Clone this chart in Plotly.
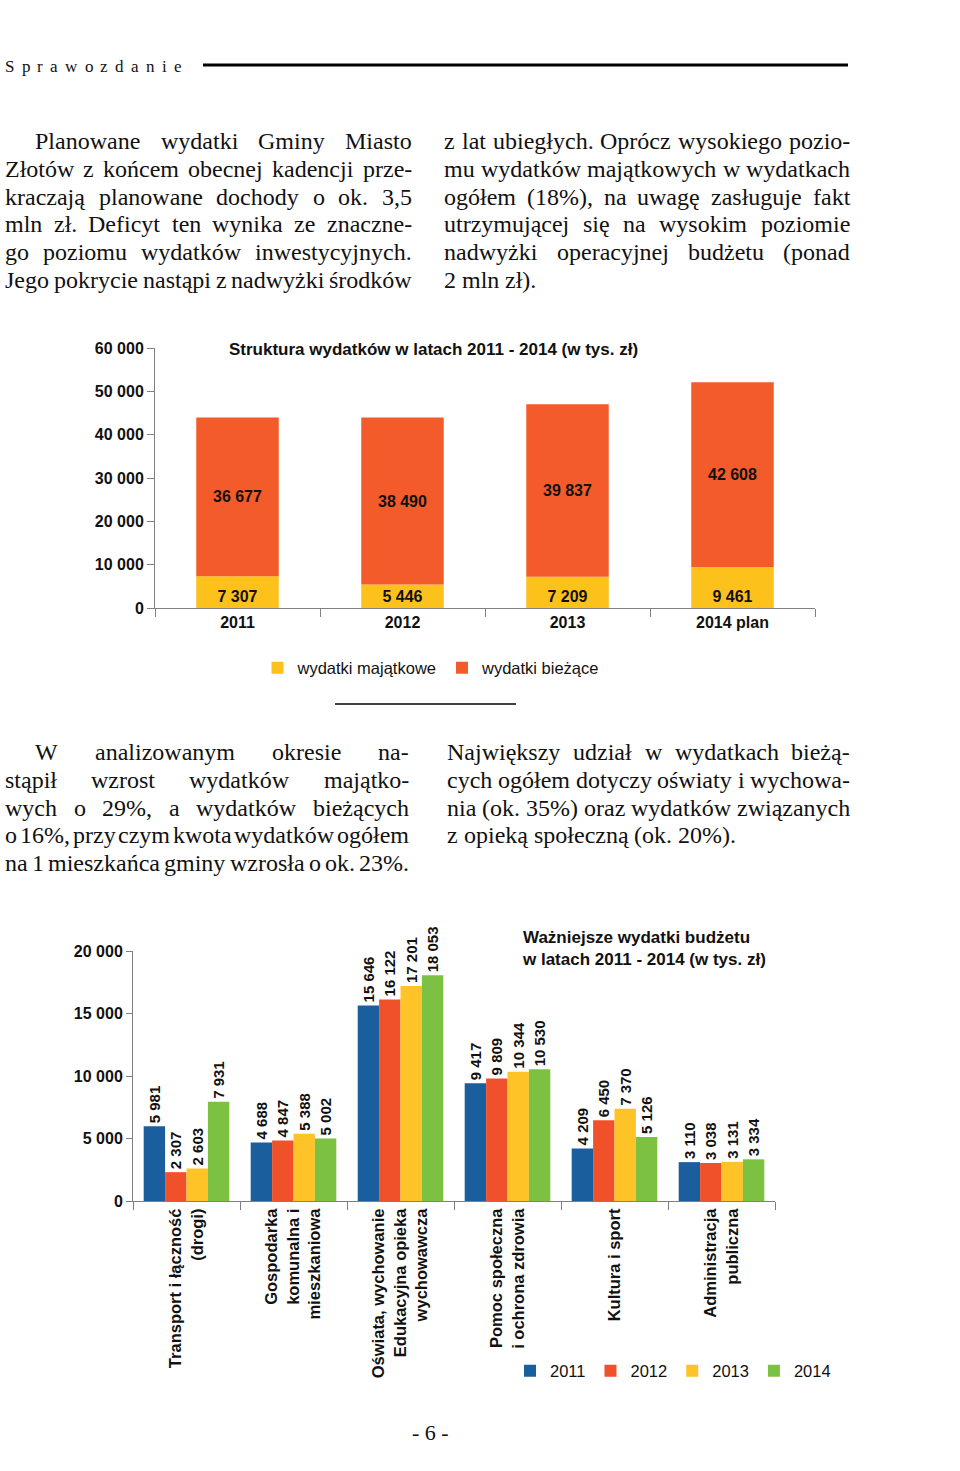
import plotly.graph_objects as go

# ---------------- data ----------------
years1 = ["2011", "2012", "2013", "2014 plan"]
wydatki_majatkowe = [7307, 5446, 7209, 9461]
wydatki_biezace = [36677, 38490, 39837, 42608]

categories2 = [
    "Transport i łączność<br>(drogi)",
    "Gospodarka<br>komunalna i<br>mieszkaniowa",
    "Oświata, wychowanie<br>Edukacyjna opieka<br>wychowawcza",
    "Pomoc społeczna<br>i ochrona zdrowia",
    "Kultura i sport",
    "Administracja<br>publiczna",
]
years2 = ["2011", "2012", "2013", "2014"]
v2011 = [5981, 4688, 15646, 9417, 4209, 3110]
v2012 = [2307, 4847, 16122, 9809, 6450, 3038]
v2013 = [2603, 5388, 17201, 10344, 7370, 3131]
v2014 = [7931, 5002, 18053, 10530, 5126, 3334]

y1_ticks = [0, 10000, 20000, 30000, 40000, 50000, 60000]
y2_ticks = [0, 5000, 10000, 15000, 20000]

para1 = [
    "Planowane wydatki Gminy Miasto",
    "Złotów z końcem obecnej kadencji prze-",
    "kraczają planowane dochody o ok. 3,5",
    "mln zł. Deficyt ten wynika ze znaczne-",
    "go poziomu wydatków inwestycyjnych.",
    "Jego pokrycie nastąpi z nadwyżki środków",
]
para2 = [
    "z lat ubiegłych. Oprócz wysokiego pozio-",
    "mu wydatków majątkowych w wydatkach",
    "ogółem (18%), na uwagę zasługuje fakt",
    "utrzymującej się na wysokim poziomie",
    "nadwyżki operacyjnej budżetu (ponad",
    "2 mln zł).",
]
para3 = [
    "W analizowanym okresie na-",
    "stąpił wzrost wydatków majątko-",
    "wych o 29%, a wydatków bieżących",
    "o 16%, przy czym kwota wydatków ogółem",
    "na 1 mieszkańca gminy wzrosła o ok. 23%.",
]
para4 = [
    "Największy udział w wydatkach bieżą-",
    "cych ogółem dotyczy oświaty i wychowa-",
    "nia (ok. 35%) oraz wydatków związanych",
    "z opieką społeczną (ok. 20%).",
]

# ---------------- page geometry ----------------
W, H = 960, 1471


def fx(px):
    return px / W


def fy(py):
    return 1 - py / H


SANS = "Liberation Sans, Arial, sans-serif"
SERIF = "Liberation Serif, Times New Roman, serif"

YEL1, ORA1 = "#FDC11C", "#F35B2A"
C2011, C2012, C2013, C2014 = "#1B5E9D", "#F0502A", "#FDC327", "#7DC143"
AXC = "#808080"

# Times / Liberation Serif advance widths (1/1000 em)
TW = {' ': 250, '(': 333, ')': 333, ',': 250, '-': 333, '.': 250, '%': 833,
      'a': 444, 'b': 500, 'c': 444, 'd': 500, 'e': 444, 'f': 333, 'g': 500, 'h': 500,
      'i': 278, 'j': 278, 'k': 500, 'l': 278, 'm': 778, 'n': 500, 'o': 500, 'p': 500,
      'q': 500, 'r': 333, 's': 389, 't': 278, 'u': 500, 'v': 500, 'w': 722, 'x': 500,
      'y': 500, 'z': 444,
      'A': 722, 'B': 667, 'C': 667, 'D': 722, 'E': 611, 'F': 556, 'G': 722, 'H': 722,
      'I': 333, 'J': 389, 'K': 722, 'L': 611, 'M': 889, 'N': 722, 'O': 722, 'P': 556,
      'R': 667, 'S': 556, 'T': 611, 'U': 722, 'W': 944, 'Z': 611,
      'ą': 444, 'ć': 444, 'ę': 444, 'ł': 278, 'ń': 500, 'ó': 500, 'ś': 389, 'ź': 444,
      'ż': 444, 'Ł': 611, 'Ś': 556, 'Ż': 611}


def tw(s):
    return sum(TW.get(c, 500) for c in s) / 1000.0


annotations = []
FS = 24


def word_ann(text, px, py, size=FS):
    annotations.append(dict(
        text=text, x=fx(px), y=fy(py), xref="paper", yref="paper",
        xanchor="left", yanchor="middle", showarrow=False, borderpad=0,
        font=dict(family=SERIF, size=size, color="#111")))


def paragraph(lines, x0, x1, y0, step, indent, justify_last):
    for i, line in enumerate(lines):
        words = line.split(" ")
        left = x0 + (indent if i == 0 else 0)
        widths = [tw(w) * FS for w in words]
        last = i == len(lines) - 1
        if len(words) > 1 and (not last or justify_last):
            gap = (x1 - left - sum(widths)) / (len(words) - 1)
        else:
            gap = 0.25 * FS
        x = left
        for w, wd in zip(words, widths):
            word_ann(w, x, y0 + i * step)
            x += wd + gap


paragraph(para1, 4, 411, 141, 27.8, 30, True)
paragraph(para2, 443, 849, 141, 27.8, 0, False)
paragraph(para3, 4, 408, 752, 27.8, 30, True)
paragraph(para4, 446, 849, 752, 27.8, 0, False)

# header letter-spaced word
hx = 4
for ch in "Sprawozdanie":
    word_ann(ch, hx, 66, size=17)
    hx += tw(ch) * 17 + 7.25

annotations.append(dict(text="- 6 -", x=fx(430), y=fy(1432), xref="paper", yref="paper",
                        xanchor="center", yanchor="middle", showarrow=False,
                        font=dict(family=SERIF, size=22, color="#111")))

annotations.append(dict(text="Struktura wydatków w latach 2011 - 2014 (w tys. zł)",
                        x=fx(433), y=fy(349), xref="paper", yref="paper",
                        xanchor="center", yanchor="middle", showarrow=False,
                        font=dict(family=SANS, size=17, color="#111", weight="bold")))

annotations.append(dict(text="Ważniejsze wydatki budżetu<br>w latach 2011 - 2014 (w tys. zł)",
                        x=fx(520), y=fy(926), xref="paper", yref="paper",
                        xanchor="left", yanchor="top", align="left", showarrow=False,
                        font=dict(family=SANS, size=17, color="#111", weight="bold")))


def fmt(v):
    return f"{v:,}".replace(",", " ")


fig = go.Figure()

fig.add_trace(go.Bar(
    x=years1, y=wydatki_majatkowe, name="wydatki majątkowe", marker=dict(color=YEL1, line=dict(width=0)),
    width=0.5, offset=-0.25, text=[fmt(v) for v in wydatki_majatkowe], textposition="inside",
    insidetextanchor="start", textangle=0, constraintext="none",
    insidetextfont=dict(family=SANS, size=16, color="#111", weight="bold"),
    xaxis="x", yaxis="y", legend="legend", hoverinfo="skip"))
fig.add_trace(go.Bar(
    x=years1, y=wydatki_biezace, base=wydatki_majatkowe, name="wydatki bieżące",
    marker=dict(color=ORA1, line=dict(width=0)),
    width=0.5, offset=-0.25, text=[fmt(v) for v in wydatki_biezace], textposition="inside",
    insidetextanchor="middle", textangle=0, constraintext="none",
    insidetextfont=dict(family=SANS, size=16, color="#111", weight="bold"),
    xaxis="x", yaxis="y", legend="legend", hoverinfo="skip"))

for name, vals, col in zip(years2, [v2011, v2012, v2013, v2014], [C2011, C2012, C2013, C2014]):
    fig.add_trace(go.Bar(
        x=categories2, y=vals, name=name, marker=dict(color=col, line=dict(width=0)),
        text=[fmt(v) for v in vals], textposition="outside", textangle=-90, cliponaxis=False,
        constraintext="none",
        outsidetextfont=dict(family=SANS, size=15, color="#111", weight="bold"),
        xaxis="x2", yaxis="y2", legend="legend2", hoverinfo="skip"))

tickfont = dict(family=SANS, size=16, color="#111", weight="bold")
catfont = dict(family=SANS, size=16.5, color="#111", weight="bold")

fig.update_layout(
    width=W, height=H, margin=dict(l=0, r=0, t=0, b=0, autoexpand=False),
    paper_bgcolor="white", plot_bgcolor="rgba(0,0,0,0)",
    separators=", ", barmode="group", bargap=0.2, bargroupgap=0,
    hovermode=False, annotations=annotations,
    xaxis=dict(domain=[fx(155), fx(815)], anchor="y", type="category", automargin=False,
               showline=True, linecolor=AXC, linewidth=1, ticks="outside", tickson="boundaries",
               ticklen=8, tickcolor=AXC, showgrid=False, tickfont=tickfont, fixedrange=True),
    yaxis=dict(domain=[fy(608), fy(348)], anchor="x", range=[0, 60000], tickvals=y1_ticks,
               ticktext=[fmt(v) for v in y1_ticks], showline=True, linecolor=AXC, linewidth=1,
               ticks="outside", ticklen=7, tickcolor=AXC, showgrid=False, zeroline=False,
               tickfont=tickfont, fixedrange=True, automargin=False),
    xaxis2=dict(domain=[fx(133), fx(775)], anchor="y2", type="category", automargin=False,
                showline=True, linecolor=AXC, linewidth=1, ticks="outside", tickson="boundaries",
                ticklen=8, tickcolor=AXC, showgrid=False, tickangle=-90, tickfont=catfont,
                fixedrange=True),
    yaxis2=dict(domain=[fy(1201), fy(951)], anchor="x2", range=[0, 20000], tickvals=y2_ticks,
                ticktext=[fmt(v) for v in y2_ticks], showline=True, linecolor=AXC, linewidth=1,
                ticks="outside", ticklen=6, tickcolor=AXC, showgrid=False, zeroline=False,
                tickfont=tickfont, fixedrange=True, automargin=False),
    legend=dict(orientation="h", x=fx(431), xanchor="center", y=fy(668), yanchor="middle",
                font=dict(family=SANS, size=16.5, color="#111"), bgcolor="rgba(0,0,0,0)",
                traceorder="normal"),
    legend2=dict(orientation="h", x=fx(673), xanchor="center", y=fy(1371), yanchor="middle",
                 font=dict(family=SANS, size=16.5, color="#111"), bgcolor="rgba(0,0,0,0)",
                 traceorder="normal"),
    shapes=[
        dict(type="line", xref="paper", yref="paper", x0=fx(203), x1=fx(848), y0=fy(65), y1=fy(65),
             line=dict(color="#000", width=3)),
        dict(type="line", xref="paper", yref="paper", x0=fx(335), x1=fx(516), y0=fy(704), y1=fy(704),
             line=dict(color="#000", width=1.5)),
    ],
)

fig.write_html(
    "out.html",
    config={"displayModeBar": False},
    post_script="document.documentElement.style.margin='0';document.body.style.margin='0';"
                "document.body.style.padding='0';document.body.style.overflow='hidden';",
)
